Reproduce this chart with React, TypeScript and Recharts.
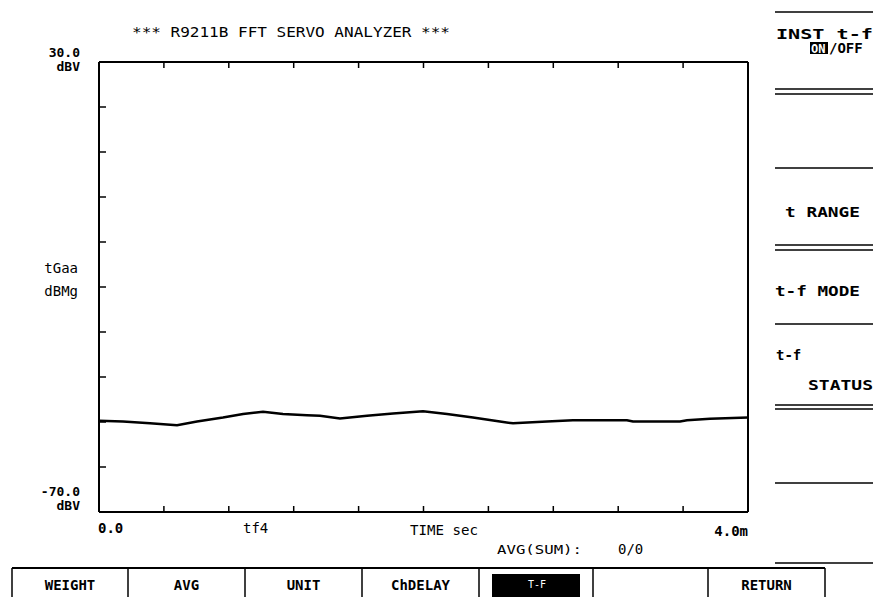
import React from 'react';
import { LineChart, Line, XAxis, YAxis } from 'recharts';

const timeMs = [0, 0.148, 0.314, 0.481, 0.604, 0.764, 0.888, 1.011, 1.134, 1.282, 1.362, 1.485, 1.652, 1.812, 1.997, 2.145, 2.305, 2.471, 2.552, 2.761, 2.921, 3.254, 3.291, 3.581, 3.624, 3.766, 4.0];
const levelDb = [-49.7, -49.9, -50.3, -50.7, -49.9, -49.0, -48.2, -47.7, -48.2, -48.5, -48.6, -49.2, -48.6, -48.1, -47.6, -48.2, -49.0, -49.9, -50.3, -49.9, -49.6, -49.6, -49.9, -49.9, -49.6, -49.3, -49.0];
const xTicks = [0, 0.4, 0.8, 1.2, 1.6, 2.0, 2.4, 2.8, 3.2, 3.6, 4.0];
const yTicks = [-70, -60, -50, -40, -30, -20, -10, 0, 10, 20, 30];
const xLabels = ['0.0', 'tf4', 'TIME sec', '4.0m'];
const yLabels = ['30.0', 'dBV', 'tGaa', 'dBMg', '-70.0', 'dBV'];
const softKeys = ['WEIGHT', 'AVG', 'UNIT', 'ChDELAY', 'T-F', '', 'RETURN'];
const sideKeys = ['INST t-f', 'ON', '/OFF', 't RANGE', 't-f MODE', 't-f', 'STATUS'];
const title = '*** R9211B FFT SERVO ANALYZER ***';
const avgText = ['AVG(SUM):', '0/0'];

const data = timeMs.map((t, i) => ({ t, v: levelDb[i] }));

const FONT = '"DejaVu Sans Mono", "Liberation Mono", monospace';

function Overlay() {
  const T = (props: any) => (
    <text fontFamily={FONT} fontWeight="bold" fontSize={14} fill="#000" {...props} />
  );
  const hl = (y: number) => <line x1={775} x2={873} y1={y} y2={y} stroke="#000" strokeWidth={1.5} />;
  const keyX = [12, 128, 245, 362, 479, 593, 708, 825];
  return (
    <svg width={873} height={597} style={{ position: 'absolute', left: 0, top: 0, pointerEvents: 'none' }}>
      <T x={132} y={37} textLength={318} lengthAdjust="spacingAndGlyphs" fontWeight="normal">{title}</T>
      <T x={80} y={57} textAnchor="end" fontSize={13}>{yLabels[0]}</T>
      <T x={80} y={71} textAnchor="end" fontSize={13}>{yLabels[1]}</T>
      <T x={78} y={273} textAnchor="end" fontWeight="normal">{yLabels[2]}</T>
      <T x={78} y={296} textAnchor="end" fontWeight="normal">{yLabels[3]}</T>
      <T x={80} y={496} textAnchor="end" fontSize={13}>{yLabels[4]}</T>
      <T x={80} y={510} textAnchor="end" fontSize={13}>{yLabels[5]}</T>
      <T x={98} y={533}>{xLabels[0]}</T>
      <T x={243} y={533} fontWeight="normal">{xLabels[1]}</T>
      <T x={410} y={535} textLength={68} lengthAdjust="spacingAndGlyphs" fontWeight="normal">{xLabels[2]}</T>
      <T x={748} y={536} textAnchor="end">{xLabels[3]}</T>
      <T x={497} y={554} textLength={85} lengthAdjust="spacingAndGlyphs" fontSize={13} fontWeight="normal">{avgText[0]}</T>
      <T x={618} y={554} fontWeight="normal">{avgText[1]}</T>

      {hl(12)}
      <T x={776} y={39} textLength={97} lengthAdjust="spacingAndGlyphs">{sideKeys[0]}</T>
      <rect x={810} y={42} width={18} height={12} fill="#000" />
      <T x={811} y={53} fill="#fff" fontSize={12}>{sideKeys[1]}</T>
      <T x={829} y={53}>{sideKeys[2]}</T>
      {hl(89)}
      {hl(94)}
      {hl(168)}
      <T x={785} y={217} textLength={75} lengthAdjust="spacingAndGlyphs">{sideKeys[3]}</T>
      {hl(245)}
      {hl(250)}
      <T x={775} y={296} textLength={85} lengthAdjust="spacingAndGlyphs">{sideKeys[4]}</T>
      {hl(324)}
      <T x={776} y={360}>{sideKeys[5]}</T>
      <T x={808} y={390} textLength={65} lengthAdjust="spacingAndGlyphs">{sideKeys[6]}</T>
      {hl(405)}
      {hl(409)}
      {hl(483)}
      {hl(563)}

      <line x1={12} x2={825} y1={568} y2={568} stroke="#000" strokeWidth={2} />
      {keyX.map((x, i) => (
        <line key={i} x1={x} x2={x} y1={568} y2={597} stroke="#000" strokeWidth={1.5} />
      ))}
      <rect x={492} y={574} width={88} height={23} fill="#000" />
      {softKeys.map((k, i) => {
        const cx = (keyX[i] + keyX[i + 1]) / 2;
        if (!k) return null;
        if (i === 4) {
          return (
            <T key={i} x={537} y={588} textAnchor="middle" fill="#fff" fontSize={10} fontWeight="normal">{k}</T>
          );
        }
        return (
          <T key={i} x={cx} y={590} textAnchor="middle">{k}</T>
        );
      })}
    </svg>
  );
}

export default function App() {
  const axisStyle = { stroke: '#000', strokeWidth: 2 };
  const tickStyle = { stroke: '#000', strokeWidth: 1.5 };
  return (
    <div style={{ position: 'absolute', left: 0, top: 0, width: 873, height: 597, background: '#fff' }}>
      <LineChart
        width={873}
        height={597}
        data={data}
        margin={{ top: 62, right: 125, bottom: 85, left: 99 }}
      >
        <XAxis
          dataKey="t"
          type="number"
          domain={[0, 4]}
          ticks={xTicks}
          mirror
          height={1}
          tickSize={6}
          axisLine={axisStyle}
          tickLine={tickStyle}
          tickFormatter={() => ''}
        />
        <XAxis
          xAxisId="top"
          orientation="top"
          dataKey="t"
          type="number"
          domain={[0, 4]}
          ticks={xTicks}
          mirror
          height={1}
          tickSize={6}
          axisLine={axisStyle}
          tickLine={tickStyle}
          tickFormatter={() => ''}
        />
        <YAxis
          type="number"
          domain={[-70, 30]}
          ticks={yTicks}
          mirror
          width={1}
          tickSize={7}
          axisLine={axisStyle}
          tickLine={tickStyle}
          tickFormatter={() => ''}
        />
        <YAxis
          yAxisId="right"
          orientation="right"
          type="number"
          domain={[-70, 30]}
          ticks={yTicks}
          mirror
          width={1}
          tickSize={6}
          axisLine={axisStyle}
          tickLine={tickStyle}
          tickFormatter={() => ''}
        />
        <Line
          type="linear"
          dataKey="v"
          stroke="#000"
          strokeWidth={2.5}
          dot={false}
          isAnimationActive={false}
        />
      </LineChart>
      <Overlay />
    </div>
  );
}
